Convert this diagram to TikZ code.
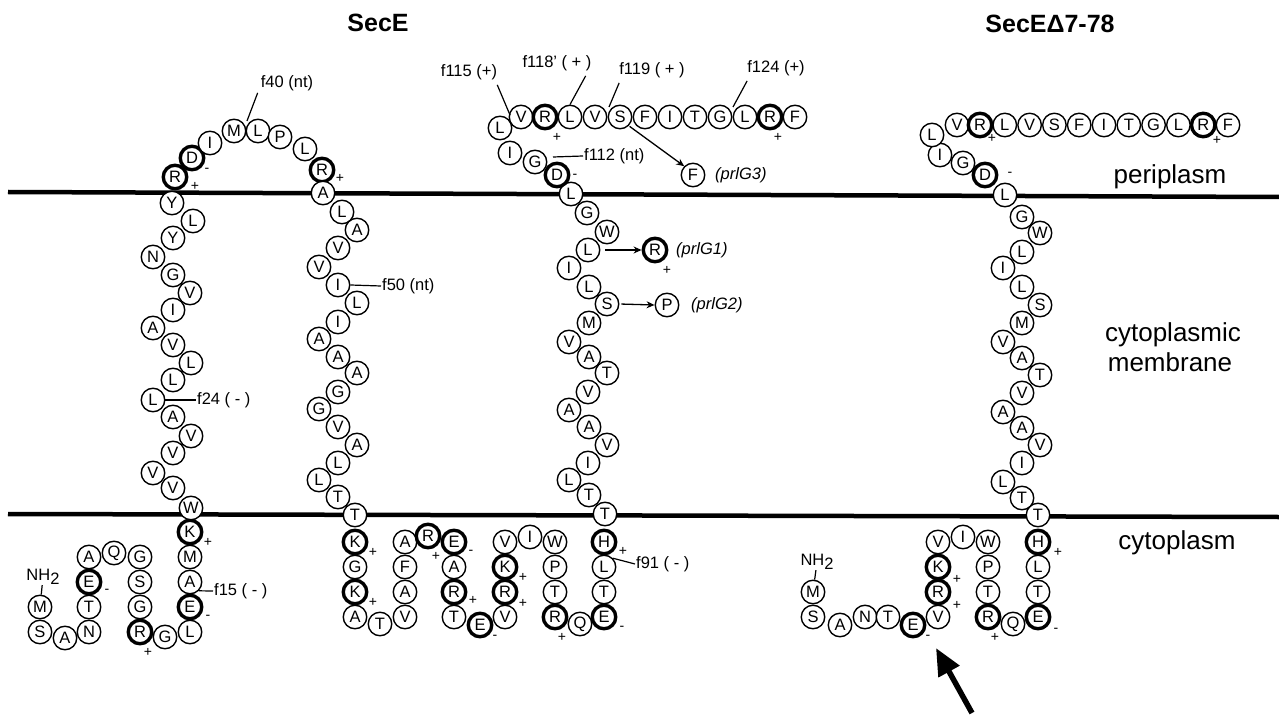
\documentclass[tikz,border=0pt]{standalone}
\usepackage{fontspec}
\setmainfont{Liberation Sans}
\usetikzlibrary{arrows.meta}
\begin{document}
\begin{tikzpicture}[x=1pt,y=-1pt,
  aa/.style={circle,draw,fill=white,line width=1.4pt,minimum size=23.5pt,inner sep=0pt,
             font=\fontsize{16.5}{16.5}\selectfont},
  chg/.style={font=\fontsize{14}{14}\selectfont,inner sep=0pt},
  lbl/.style={font=\fontsize{16.5}{16.5}\selectfont,inner sep=1pt},
  mut/.style={font=\fontsize{16.5}{16.5}\selectfont\itshape,inner sep=0pt,anchor=west},
  region/.style={font=\fontsize{26}{26}\selectfont},
  heading/.style={font=\fontsize{25}{25}\selectfont\bfseries},
  membrane/.style={line width=4.5pt},
  lead/.style={line width=1.2pt},
  pointer/.style={line width=1.3pt,-{Stealth[length=8pt,width=7pt]}},
  bigarrow/.style={line width=5.5pt,-{Triangle[length=27pt,width=23pt]}},
  amine/.style={font=\fontsize{16.5}{16.5}\selectfont,inner sep=0pt}
]
\useasboundingbox (0,0) rectangle (1279,719);

% membrane boundaries
\coordinate (topL) at (8,192);   \coordinate (topR) at (1279,197);
\coordinate (botL) at (8,514);   \coordinate (botR) at (1279,517);
\draw[membrane] (topL) -- (topR);
\draw[membrane] (botL) -- (botR);

% headings and compartments
\node[heading] (h1) at (378,23) {SecE};
\node[heading] (h2) at (1050,24) {SecEΔ7-78};
\node[region] (peri) at (1170,177) {periplasm};
\node[region] (memb1) at (1173,335) {cytoplasmic};
\node[region] (memb2) at (1170,362) {membrane};
\node[region] (cyto) at (1177,543) {cytoplasm};

% ---------------- SecE ----------------
\node[amine] (nh1) at (43,577) {NH\raisebox{-0.5ex}{2}};
\foreach \n/\x/\y/\l/\w in {
  s1/40/607/M/1.4pt, s2/40/632/S/1.4pt, s3/65/638/A/1.4pt, s4/89/632/N/1.4pt,
  s5/89/607/T/1.4pt, s6/89/582/E/3.4pt, s7/89/557/A/1.4pt, s8/114/553/Q/1.4pt,
  s9/140/557/G/1.4pt, s10/140/582/S/1.4pt, s11/140/607/G/1.4pt, s12/140/632/R/3.4pt,
  s13/165/637/G/1.4pt, s14/190/632/L/1.4pt, s15/190/607/E/3.4pt, s16/190/582/A/1.4pt,
  s17/190/557/M/1.4pt, s18/190/532/K/3.4pt, s19/191/508/W/1.4pt,
  s20/173/488/V/1.4pt, s21/153/473/V/1.4pt, s22/173/453/V/1.4pt, s23/191/436/V/1.4pt,
  s24/173/417/A/1.4pt, s25/153/400/L/1.4pt, s26/173/380/L/1.4pt, s27/191/363/L/1.4pt,
  s28/173/345/V/1.4pt, s29/153/328/A/1.4pt, s30/173/310/I/1.4pt, s31/190/293/V/1.4pt,
  s32/173/275/G/1.4pt, s33/153/257/N/1.4pt, s34/173/238/Y/1.4pt, s35/193/221/L/1.4pt,
  s36/172/203/Y/1.4pt, s37/175/177/R/3.4pt, s38/192/158/D/3.4pt, s39/210/143/I/1.4pt,
  s40/234/131/M/1.4pt, s41/258/131/L/1.4pt, s42/280/137/P/1.4pt, s43/305/149/L/1.4pt,
  s44/322/170/R/3.4pt, s45/323/193/A/1.4pt,
  s46/342/212/L/1.4pt, s47/357/230/A/1.4pt, s48/338/248/V/1.4pt, s49/319/267/V/1.4pt,
  s50/338/285/I/1.4pt, s51/357/303/L/1.4pt, s52/338/322/I/1.4pt, s53/319/339/A/1.4pt,
  s54/338/357/A/1.4pt, s55/357/373/A/1.4pt, s56/338/392/G/1.4pt, s57/319/409/G/1.4pt,
  s58/338/427/V/1.4pt, s59/357/445/A/1.4pt, s60/338/463/L/1.4pt, s61/319/480/L/1.4pt,
  s62/338/497/T/1.4pt, s63/355/515/T/1.4pt,
  s64/355/542/K/3.4pt, s65/355/567/G/1.4pt, s66/355/592/K/3.4pt, s67/355/617/A/1.4pt,
  s68/380/624/T/1.4pt, s69/405/617/V/1.4pt, s70/405/592/A/1.4pt, s71/405/567/F/1.4pt,
  s72/405/542/A/1.4pt, s73/428/536/R/3.4pt, s74/454/542/E/3.4pt, s75/454/567/A/1.4pt,
  s76/454/592/R/3.4pt, s77/454/617/T/1.4pt, s78/480/625/E/3.4pt, s79/505/617/V/1.4pt,
  s80/505/592/R/3.4pt, s81/505/567/K/3.4pt, s82/505/542/V/1.4pt, s83/530/537/I/1.4pt,
  s84/555/542/W/1.4pt, s85/555/567/P/1.4pt, s86/555/592/T/1.4pt, s87/555/617/R/3.4pt,
  s88/580/624/Q/1.4pt, s89/604/617/E/3.4pt, s90/604/592/T/1.4pt, s91/604/567/L/1.4pt,
  s92/604/542/H/3.4pt, s93/605/514/T/1.4pt,
  s94/589/495/T/1.4pt, s95/569/480/L/1.4pt, s96/588/463/I/1.4pt, s97/607/445/V/1.4pt,
  s98/589/427/A/1.4pt, s99/569/410/A/1.4pt, s100/588/392/V/1.4pt, s101/607/373/T/1.4pt,
  s102/589/357/A/1.4pt, s103/569/342/V/1.4pt, s104/589/323/M/1.4pt, s105/607/304/S/1.4pt,
  s106/589/287/L/1.4pt, s107/569/268/I/1.4pt, s108/588/250/L/1.4pt, s109/607/232/W/1.4pt,
  s110/587/213/G/1.4pt, s111/571/194/L/1.4pt, s112/557/175/D/3.4pt, s113/535/162/G/1.4pt,
  s114/510/153/I/1.4pt, s115/500/128/L/1.4pt, s116/521/117/V/1.4pt, s117/545/117/R/3.4pt,
  s118/570/117/L/1.4pt, s119/595/117/V/1.4pt, s120/620/117/S/1.4pt, s121/645/117/F/1.4pt,
  s122/670/117/I/1.4pt, s123/695/117/T/1.4pt, s124/720/117/G/1.4pt, s125/745/117/L/1.4pt,
  s126/770/117/R/3.4pt, s127/795/117/F/1.4pt}
  {\node[aa,line width=\w] (\n) at (\x,\y) {\l};}
\draw[lead] (s1) -- (nh1);

% substituted residues
\node[aa,line width=3.4pt] (mR) at (655,250) {R};
\node[aa] (mP) at (667,305) {P};
\node[aa] (mF) at (693,175) {F};
\node[mut] (g1) at (676,250) {(prlG1)};
\node[mut] (g2) at (691,305) {(prlG2)};
\node[mut] (g3) at (715,175) {(prlG3)};
\draw[pointer,shorten <=5pt] (s108.east) -- (mR.west);
\draw[pointer,shorten <=2pt] (s105.east) -- (mP.west);
\draw[pointer,shorten <=1pt] (s120.south east) -- (mF.north west);

% charges
\foreach \n/\x/\y/\c in {
  q1/107/591/-, q2/148/652/+, q3/208/617/-, q4/208/542/+, q5/195/186/+, q6/207/170/-,
  q7/340/178/+, q8/373/552/+, q9/373/602/+, q10/436/556/+, q11/471/552/-, q12/473/600/+,
  q13/495/637/-, q14/523/603/+, q15/523/577/+, q16/562/637/+, q17/622/628/-, q18/623/551/+,
  q19/575/176/-, q20/557/137/+, q21/778/137/+, q22/667/270/+,
  r1/928/637/-, r2/957/605/+, r3/957/579/+, r4/995/637/+, r5/1056/630/-, r6/1058/552/+,
  r7/1010/174/-, r8/992/138/+, r9/1217/140/+}
  {\node[chg] (\n) at (\x,\y) {\c};}

% mutation labels with leaders
\node[lbl] (f40) at (287,83) {f40 (nt)};
\coordinate (t40) at (247,121);
\draw[lead] ([xshift=-2pt,yshift=-1pt]f40.south west) -- (t40);
\node[lbl,anchor=west] (f24) at (196,400) {f24 ( - )};
\draw[lead] (s25.east) -- (f24.west);
\node[lbl,anchor=west] (f50) at (381,286) {f50 (nt)};
\draw[lead] (s50.east) -- (f50.west);
\node[lbl,anchor=west] (f15) at (213,591) {f15 ( - )};
\draw[lead] (s16.south east) -- (f15.west);
\node[lbl,anchor=west] (f91) at (635,564) {f91 ( - )};
\draw[lead] (s91.north east) -- (f91.west);
\node[lbl,anchor=west] (f112) at (583,156) {f112 (nt)};
\coordinate (t112) at (553,157);
\draw[lead] (t112) -- (f112.west);
\node[lbl] (f115) at (469,72) {f115 (+)};
\coordinate (t115) at (510,115);
\draw[lead] ([xshift=-1pt,yshift=-4pt]f115.south east) -- (t115);
\node[lbl] (f118) at (557,63) {f118' ( + )};
\draw[lead] ([xshift=-7pt,yshift=-4pt]f118.south east) -- (s118.north);
\node[lbl] (f119) at (652,70) {f119 ( + )};
\coordinate (t119) at (609,107);
\draw[lead] ([xshift=1pt,yshift=-4pt]f119.south west) -- (t119);
\node[lbl] (f124) at (776,68) {f124 (+)};
\coordinate (t124) at (733,107);
\draw[lead] ([xshift=1pt,yshift=-4pt]f124.south west) -- (t124);

% ---------------- SecE delta 7-78 ----------------
\node[amine] (nh2) at (817,562) {NH\raisebox{-0.5ex}{2}};
\foreach \n/\x/\y/\l/\w in {
  d1/813/592/M/1.4pt, d2/813/617/S/1.4pt, d3/840/625/A/1.4pt, d4/865/617/N/1.4pt,
  d5/888/617/T/1.4pt, d6/913/625/E/3.4pt, d7/938/617/V/1.4pt, d8/938/592/R/3.4pt,
  d9/938/567/K/3.4pt, d10/938/542/V/1.4pt, d11/963/537/I/1.4pt, d12/988/542/W/1.4pt,
  d13/988/567/P/1.4pt, d14/988/592/T/1.4pt, d15/988/617/R/3.4pt, d16/1013/624/Q/1.4pt,
  d17/1038/617/E/3.4pt, d18/1038/592/T/1.4pt, d19/1038/567/L/1.4pt, d20/1038/542/H/3.4pt,
  d21/1038/515/T/1.4pt,
  d22/1022/498/T/1.4pt, d23/1003/482/L/1.4pt, d24/1022/463/I/1.4pt, d25/1040/445/V/1.4pt,
  d26/1022/428/A/1.4pt, d27/1003/412/A/1.4pt, d28/1022/393/V/1.4pt, d29/1040/375/T/1.4pt,
  d30/1022/358/A/1.4pt, d31/1003/342/V/1.4pt, d32/1022/323/M/1.4pt, d33/1040/305/S/1.4pt,
  d34/1022/287/L/1.4pt, d35/1003/268/I/1.4pt, d36/1022/252/L/1.4pt, d37/1040/233/W/1.4pt,
  d38/1022/217/G/1.4pt, d39/1005/195/L/1.4pt, d40/985/175/D/3.4pt, d41/963/163/G/1.4pt,
  d42/940/155/I/1.4pt, d43/932/135/L/1.4pt, d44/957/125/V/1.4pt, d45/980/125/R/3.4pt,
  d46/1004.8/125/L/1.4pt, d47/1029.6/125/V/1.4pt, d48/1054.4/125/S/1.4pt,
  d49/1079.2/125/F/1.4pt, d50/1104/125/I/1.4pt, d51/1128.8/125/T/1.4pt,
  d52/1153.6/125/G/1.4pt, d53/1178.4/125/L/1.4pt, d54/1203.2/125/R/3.4pt,
  d55/1228/125/F/1.4pt}
  {\node[aa,line width=\w] (\n) at (\x,\y) {\l};}
\draw[lead] (d1) -- (nh2);

% deletion junction marker
\coordinate (arrtail) at (972,713);
\coordinate (arrtip) at (936,648);
\draw[bigarrow] (arrtail) -- (arrtip);
\end{tikzpicture}
\end{document}
